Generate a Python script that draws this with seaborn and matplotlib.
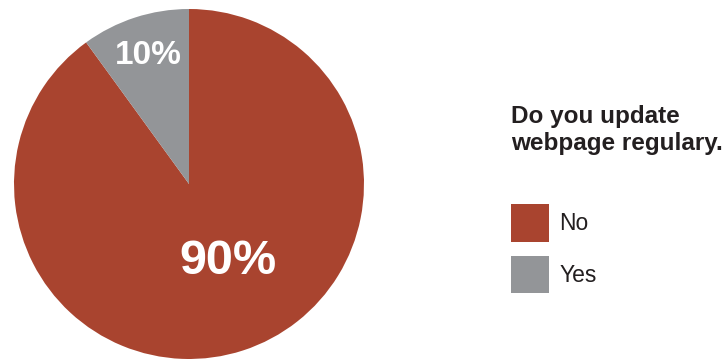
import matplotlib
matplotlib.use("Agg")
import matplotlib.pyplot as plt
import seaborn as sns
from matplotlib.patches import Patch

categories = ["No", "Yes"]
shares = [90, 10]
colors = ["#A9442F", "#939598"]
title = "Do you update\nwebpage regulary."

sns.set_theme(style="white")
plt.rcParams["font.family"] = ["Liberation Sans", "DejaVu Sans"]

W, H = 727, 359
fig = plt.figure(figsize=(W / 100, H / 100), dpi=100)
cx, cy, r = 189, 184, 175
ax = fig.add_axes([(cx - r) / W, (H - cy - r) / H, 2 * r / W, 2 * r / H])

wedges, _ = ax.pie(shares, colors=colors, startangle=90, counterclock=False,
                   radius=1, wedgeprops=dict(linewidth=0))
ax.set_xlim(-1, 1)
ax.set_ylim(-1, 1)
ax.set_aspect("equal")
ax.axis("off")

# percentage labels inside each wedge
label_pos = [(0.22, -0.44), (-0.235, 0.735)]
label_size = [35, 24]
for val, (x, y), fs in zip(shares, label_pos, label_size):
    ax.text(x, y, f"{val}%", color="white", fontsize=fs, fontweight="heavy",
            ha="center", va="center")

fig.text(511 / W, 1 - 130 / H, title, fontsize=17.5, fontweight="bold",
         color="#231F20", ha="left", va="center", linespacing=1.2)

handles = [Patch(facecolor=c, edgecolor="none") for c in colors]
leg = fig.legend(handles, categories, loc="upper left",
                 bbox_to_anchor=(511 / W, 1 - 204 / H), frameon=False,
                 borderpad=0, borderaxespad=0,
                 handlelength=1.65, handleheight=2.15, handletextpad=0.45,
                 labelspacing=0.62, prop=dict(size=16.5))
for t in leg.get_texts():
    t.set_color("#231F20")

fig.savefig("out.png", dpi=100)
